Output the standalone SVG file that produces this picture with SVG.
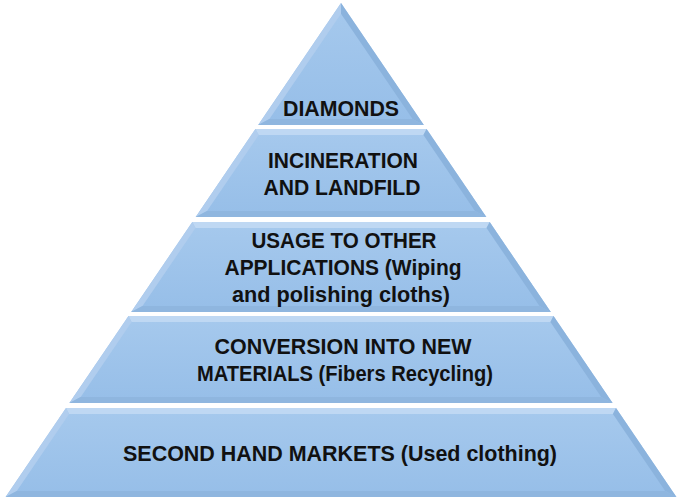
<svg xmlns="http://www.w3.org/2000/svg" width="685" height="501" viewBox="0 0 685 501">
  <defs>
    <linearGradient id="face" x1="0" y1="0" x2="0" y2="1">
      <stop offset="0" stop-color="#a6c9ed"/>
      <stop offset="1" stop-color="#96bee8"/>
    </linearGradient>
  </defs>
  <style>
    .face { fill: url(#face); }
    .bt { fill: #bfd8f3; }
    .bl { fill: #b0cdee; }
    .br { fill: #8bb3dd; }
    .bb { fill: #8fb6df; }
    .lbl { font-family: "Liberation Sans", Arial, sans-serif; font-weight: bold; font-size: 22px; fill: #111; text-anchor: middle; }
  </style>
  <rect width="685" height="501" fill="#ffffff"/>

  <g id="diamonds">
    <polygon class="face" points="341,3 423.8,125 258.2,125"/>
    <polygon class="bl" points="341,3 341,13.7 269.4,119 258.2,125"/>
    <polygon class="br" points="341,3 423.8,125 412.6,119 341,13.7"/>
    <polygon class="bb" points="258.2,125 269.4,119 412.6,119 423.8,125"/>
    <text class="lbl" x="341" y="116" textLength="116" lengthAdjust="spacingAndGlyphs">DIAMONDS</text>
  </g>

  <g id="incineration">
    <polygon class="face" points="255.4,129 426.6,129 486.3,217 195.7,217"/>
    <polygon class="bt" points="255.4,129 426.6,129 423.4,135 258.7,135"/>
    <polygon class="bl" points="255.4,129 258.7,135 207.0,211 195.7,217"/>
    <polygon class="br" points="426.6,129 486.3,217 475.0,211 423.4,135"/>
    <polygon class="bb" points="195.7,217 207.0,211 475.0,211 486.3,217"/>
    <text class="lbl" x="343" y="168" textLength="150" lengthAdjust="spacingAndGlyphs">INCINERATION</text>
    <text class="lbl" x="342" y="195" textLength="157" lengthAdjust="spacingAndGlyphs">AND LANDFILD</text>
  </g>

  <g id="usage">
    <polygon class="face" points="192.3,222 489.7,222 550.8,312 131.2,312"/>
    <polygon class="bt" points="192.3,222 489.7,222 486.5,228 195.5,228"/>
    <polygon class="bl" points="192.3,222 195.5,228 142.5,306 131.2,312"/>
    <polygon class="br" points="489.7,222 550.8,312 539.5,306 486.5,228"/>
    <polygon class="bb" points="131.2,312 142.5,306 539.5,306 550.8,312"/>
    <text class="lbl" x="344" y="248" textLength="185" lengthAdjust="spacingAndGlyphs">USAGE TO OTHER</text>
    <text class="lbl" x="343" y="275" textLength="237" lengthAdjust="spacingAndGlyphs">APPLICATIONS (Wiping</text>
    <text class="lbl" x="341" y="302" textLength="218" lengthAdjust="spacingAndGlyphs">and polishing cloths)</text>
  </g>

  <g id="conversion">
    <polygon class="face" points="128.5,316 553.5,316 612.6,403 69.4,403"/>
    <polygon class="bt" points="128.5,316 553.5,316 550.4,322 131.6,322"/>
    <polygon class="bl" points="128.5,316 131.6,322 80.7,397 69.4,403"/>
    <polygon class="br" points="553.5,316 612.6,403 601.2,397 550.4,322"/>
    <polygon class="bb" points="69.4,403 80.7,397 601.2,397 612.6,403"/>
    <text class="lbl" x="343" y="354" textLength="257" lengthAdjust="spacingAndGlyphs">CONVERSION INTO NEW</text>
    <text class="lbl" x="345" y="381" textLength="296" lengthAdjust="spacingAndGlyphs">MATERIALS (Fibers Recycling)</text>
  </g>

  <g id="second-hand">
    <polygon class="face" points="66.0,408 616.0,408 676.4,497 5.6,497"/>
    <polygon class="bt" points="66.0,408 616.0,408 612.9,414 69.1,414"/>
    <polygon class="bl" points="66.0,408 69.1,414 16.8,491 5.6,497"/>
    <polygon class="br" points="616.0,408 676.4,497 665.2,491 612.9,414"/>
    <polygon class="bb" points="5.6,497 16.8,491 665.2,491 676.4,497"/>
    <text class="lbl" x="340" y="461" textLength="434" lengthAdjust="spacingAndGlyphs">SECOND HAND MARKETS (Used clothing)</text>
  </g>
</svg>
